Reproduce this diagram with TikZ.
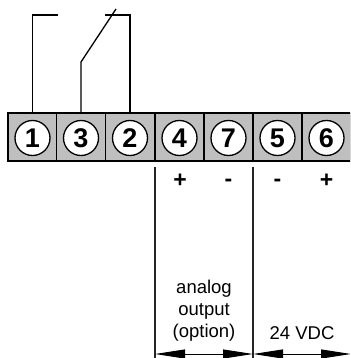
\documentclass[tikz,border=0pt]{standalone}
\usepackage{fontspec}
\setmainfont{Liberation Sans}
\usetikzlibrary{arrows.meta}
\tikzset{
  x=1pt,y=-1pt,
  termcell/.style={draw=black,line width=1.3pt,fill=black!25,minimum width=49pt,minimum height=48pt,inner sep=0pt,outer sep=0pt},
  termnum/.style={circle,draw=black,line width=1.3pt,fill=white,minimum size=35pt,inner sep=0pt,font=\fontsize{27}{27}\selectfont\bfseries},
  wire/.style={draw=black,line width=1.3pt},
  guide/.style={draw=black!85,line width=1.3pt},
  sign/.style={inner sep=0pt,font=\fontsize{23}{23}\selectfont\bfseries},
  caption/.style={inner sep=0pt,align=center,font=\fontsize{18.5}{22}\selectfont},
  dim/.style={draw=black,line width=1pt,{Triangle[length=30pt,width=9pt]}-{Triangle[length=30pt,width=9pt]}}
}
\begin{document}
\begin{tikzpicture}
\useasboundingbox (0,0) rectangle (350,358);
\begin{scope}
\clip (0,0) rectangle (350,358);
\foreach \n/\x in {a/32.5,b/81,c/130,d/179.5,e/228.5,f/277.5,g/326.5}{
  \node[termcell] (cell\n) at (\x,137) {};
}
\foreach \n/\t/\x in {a/1/32.5,b/3/81,c/2/130,d/4/179.5,e/7/228.5,f/5/277.5,g/6/326.5}{
  \node[termnum] (num\n) at (\x,138) {\t};
}
\coordinate (onetop) at (32.5,15);
\coordinate (oneend) at (57.5,15);
\coordinate (twotop) at (130,15);
\coordinate (twoend) at (105,15);
\coordinate (knee) at (81,62);
\coordinate (blade) at (116,9);
\draw[wire] (oneend) -- (onetop) -- (onetop |- cella.north);
\draw[wire] (twoend) -- (twotop) -- (twotop |- cellc.north);
\draw[wire] (blade) -- (knee) -- (knee |- cellb.north);
\coordinate (ga) at (155,167);
\coordinate (gb) at (155,358);
\coordinate (gc) at (253,167);
\coordinate (gd) at (253,358);
\coordinate (ge) at (351,354);
\draw[guide] (ga) -- (gb);
\draw[guide] (gc) -- (gd);
\coordinate (da) at (155,354);
\coordinate (db) at (253,354);
\draw[dim] (da) -- (db);
\draw[dim] (db) -- (ge);
\node[sign] (s1) at (180,181) {+};
\node[sign] (s2) at (228.5,183) {-};
\node[sign] (s3) at (277.5,183) {-};
\node[sign] (s4) at (326.5,181) {+};
\node[caption] (cap1) at (204,311) {analog\\output\\(option)};
\node[caption] (cap2) at (302,333) {24 VDC};
\end{scope}
\end{tikzpicture}
\end{document}
